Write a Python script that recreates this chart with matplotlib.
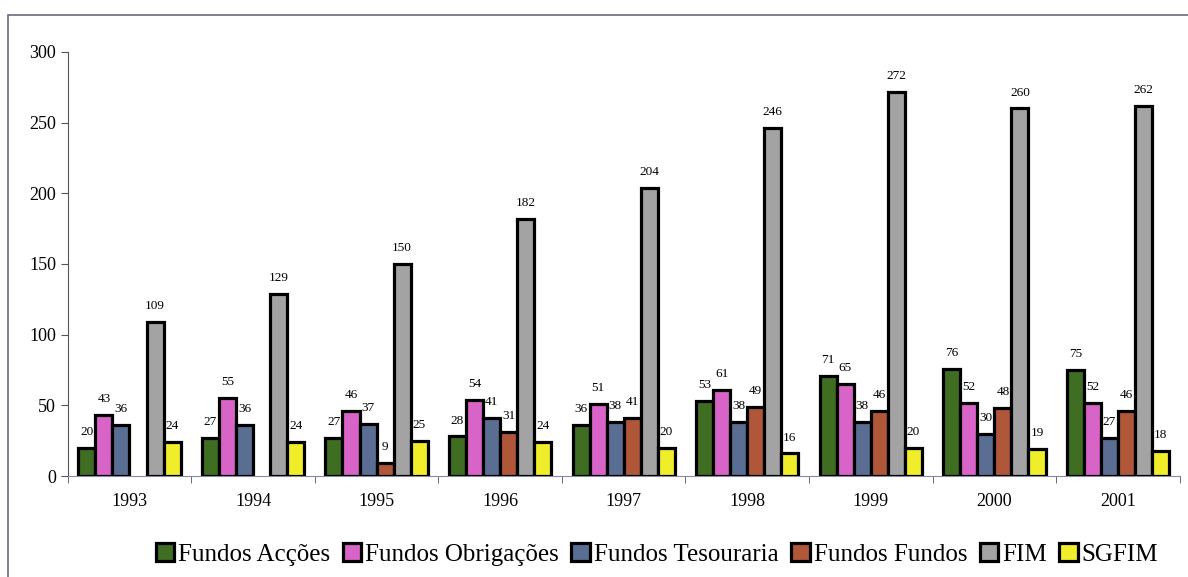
import numpy as np
import matplotlib.pyplot as plt
from matplotlib.patches import Rectangle

plt.rcParams['font.family'] = ['Liberation Serif', 'DejaVu Serif']

years = ["1993", "1994", "1995", "1996", "1997", "1998", "1999", "2000", "2001"]
series_names = ["Fundos Acções", "Fundos Obrigações", "Fundos Tesouraria",
                "Fundos Fundos", "FIM", "SGFIM"]

fundos_accoes = [20, 27, 27, 28, 36, 53, 71, 76, 75]
fundos_obrigacoes = [43, 55, 46, 54, 51, 61, 65, 52, 52]
fundos_tesouraria = [36, 36, 37, 41, 38, 38, 38, 30, 27]
fundos_fundos = [None, None, 9, 31, 41, 49, 46, 48, 46]
fim = [109, 129, 150, 182, 204, 246, 272, 260, 262]
sgfim = [24, 24, 25, 24, 20, 16, 20, 19, 18]

colors = ["#3f6e22", "#d864c8", "#5a6d92", "#b0573a", "#a3a3a3", "#f0ee2a"]
all_series = [fundos_accoes, fundos_obrigacoes, fundos_tesouraria,
              fundos_fundos, fim, sgfim]

fig = plt.figure(figsize=(11.88, 5.77), dpi=100)
ax = fig.add_axes([0.057, 0.175, 0.936, 0.735])

# outer frame around the chart
fig.add_artist(Rectangle((0.007, -0.1), 1.1, 1.074, transform=fig.transFigure,
                         fill=False, edgecolor="#6a6a80", linewidth=1.2))

x = np.arange(len(years))
width = 0.138
offsets = (np.arange(6) - 2.5) * width

for i, (name, vals) in enumerate(zip(series_names, all_series)):
    xs = [xi + offsets[i] for xi, v in zip(x, vals) if v is not None]
    hs = [v for v in vals if v is not None]
    ax.bar(xs, hs, width, color=colors[i], edgecolor="black",
           linewidth=2.3, label=name, zorder=3)
    for xi, v in zip(xs, hs):
        ax.text(xi, v + 7, str(v), ha="center", va="bottom", fontsize=9.5)

ax.set_xlim(-0.5, len(years) - 0.5)
ax.set_ylim(0, 300)
ax.set_yticks(range(0, 301, 50))
ax.set_xticks(x)
ax.set_xticklabels(years, fontsize=13)
ax.set_xticks(np.arange(-0.5, len(years)), minor=True)
ax.tick_params(axis="x", which="major", length=0, pad=12)
ax.tick_params(axis="x", which="minor", length=5, direction="out", color="#555555")
ax.tick_params(axis="y", length=5, direction="out", labelsize=13, color="#555555")

for side in ["top", "right"]:
    ax.spines[side].set_visible(False)
ax.spines["left"].set_color("#555555")
ax.spines["bottom"].set_color("#8888aa")

ax.legend(loc="upper center", bbox_to_anchor=(0.53, -0.105), ncol=6,
          frameon=False, fontsize=18, handlelength=0.75, handleheight=0.75,
          handletextpad=0.15, columnspacing=0.5)

plt.savefig("out.png", dpi=100)
